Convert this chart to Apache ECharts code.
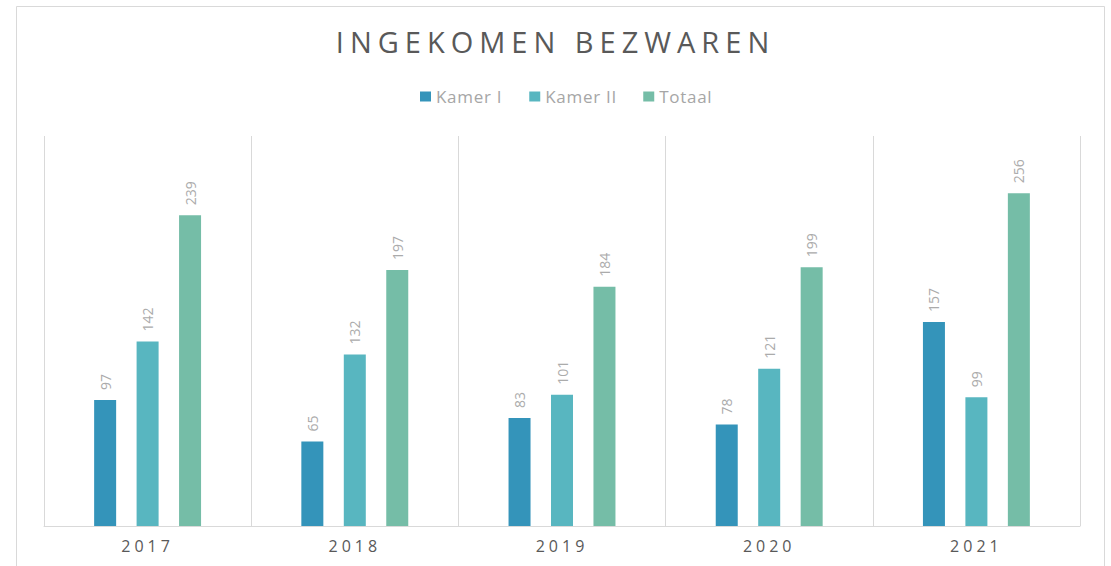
<!DOCTYPE html>
<html>
<head>
<meta charset="utf-8">
<title>Ingekomen bezwaren</title>
<script src="https://cdn.jsdelivr.net/npm/echarts@6/dist/echarts.min.js"></script>
<style>
  html, body { margin: 0; padding: 0; background: #fff; }
  #chart { width: 1111px; height: 566px; }
  /* spaced-out text like the original office chart */
  #chart text[style*="29px"] { letter-spacing: 6px; }
  #chart text[style*="16px"] { letter-spacing: 4px; }
  #chart text[style*="17px"] { letter-spacing: 0.7px; }
</style>
</head>
<body>
<div id="chart"></div>
<script>
const years = ['2017', '2018', '2019', '2020', '2021']
const kamer1 = [97, 65, 83, 78, 157]
const kamer2 = [142, 132, 101, 121, 99]
const totaal = [239, 197, 184, 199, 256]

const colors = ['#3494BA', '#58B6C0', '#75BDA7']
const font = "'Open Sans', 'Liberation Sans', sans-serif"

const chart = echarts.init(document.getElementById('chart'), null, { renderer: 'svg' })

// label above each bar, turned upright
const barLabel = {
  show: true,
  position: 'top',
  rotate: 90,
  align: 'left',
  verticalAlign: 'middle',
  distance: 10,
  color: '#ababab',
  fontSize: 14,
  fontFamily: font,
}

function makeSeries(name, values) {
  return {
    name,
    type: 'bar',
    data: values,
    barWidth: 22,
    barGap: '93%',
    label: barLabel,
  }
}

const option = {
  color: colors,
  animation: false,
  title: {
    text: 'INGEKOMEN BEZWAREN',
    left: 'center',
    top: 27,
    padding: [0, 0, 0, 12],
    textStyle: {
      fontSize: 29,
      fontWeight: 'normal',
      color: '#595959',
      fontFamily: font,
    },
  },
  legend: {
    left: 420,
    top: 88,
    padding: 0,
    itemWidth: 11,
    itemHeight: 10,
    itemGap: 32,
    icon: 'rect',
    textStyle: {
      fontSize: 17,
      color: '#a6a6a6',
      fontFamily: font,
    },
  },
  grid: {
    left: 44,
    right: 31,
    top: 136,
    bottom: 40,
  },
  xAxis: {
    type: 'category',
    data: years,
    axisLine: { lineStyle: { color: '#d9d9d9' } },
    axisTick: { show: false },
    splitLine: { show: true, lineStyle: { color: '#d9d9d9' } },
    axisLabel: {
      color: '#595959',
      fontSize: 16,
      margin: 12,
      fontFamily: font,
    },
  },
  yAxis: {
    type: 'value',
    min: 0,
    max: 300,
    show: false,
  },
  graphic: [
    {
      type: 'rect',
      z: -10,
      silent: true,
      shape: { x: 16.5, y: 6.5, width: 1088, height: 600 },
      style: { fill: 'none', stroke: '#d9d9d9', lineWidth: 1 },
    },
  ],
  series: [
    makeSeries('Kamer I', kamer1),
    makeSeries('Kamer II', kamer2),
    makeSeries('Totaal', totaal),
  ],
}

chart.setOption(option)
</script>
</body>
</html>
